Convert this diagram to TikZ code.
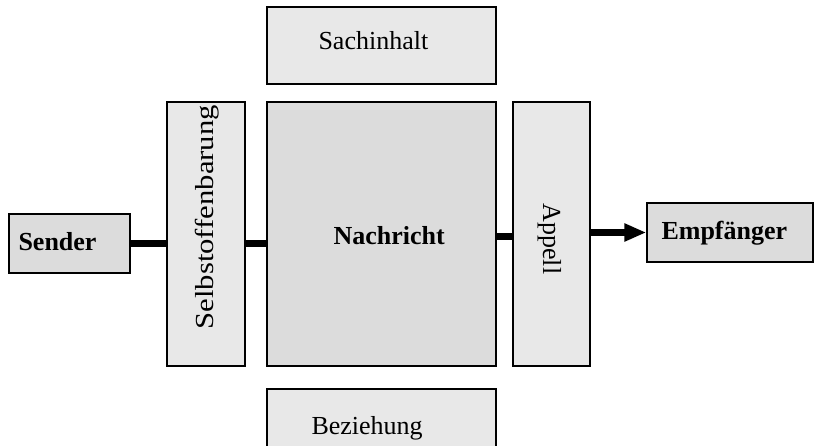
\documentclass[tikz,border=0pt]{standalone}
\usepackage{fontspec}
\setmainfont{Liberation Serif}
\usepackage{xcolor}
\usepackage{tikz}
\usetikzlibrary{arrows.meta, positioning, calc}

\definecolor{kastenhell}{HTML}{E8E8E8}
\definecolor{kastendunkel}{HTML}{DCDCDC}

\begin{document}
\begin{tikzpicture}[
    x=1pt, y=-1pt,
    font=\fontsize{26}{30}\selectfont,
    kasten/.style={draw, line width=1.5pt, inner sep=0pt, fill=kastenhell},
    ende/.style={kasten, fill=kastendunkel},
    verbindung/.style={line width=7pt},
    pfeil/.style={line width=7pt, -{Triangle[length=22pt, width=17pt]}}
  ]
    \useasboundingbox (0,0) rectangle (816,446);

    \node[ende, minimum width=121pt, minimum height=59pt] (sender) at (69.5,243.5) {};
    \node[kasten, minimum width=78pt, minimum height=264pt] (selbst) at (206,234) {};
    \node[ende, minimum width=229pt, minimum height=264pt] (nachricht) at (381.5,234) {};
    \node[kasten, minimum width=77pt, minimum height=264pt] (appell) at (551.5,234) {};
    \node[ende, minimum width=166pt, minimum height=59pt] (empfaenger) at (730,232.5) {};
    \node[kasten, minimum width=229pt, minimum height=77pt] (sachinhalt) at (381.5,45.5) {};
    \node[kasten, minimum width=229pt, minimum height=71pt] (beziehung) at (381.5,424.5) {};

    \node[anchor=base west, font=\fontsize{26}{30}\selectfont\bfseries] (sendertext) at (15,251) {Sender};
    \node[anchor=base west, font=\fontsize{26}{30}\selectfont\bfseries] (empfaengertext) at (658,240) {Empfänger};
    \node[anchor=base west, font=\fontsize{26}{30}\selectfont\bfseries] (nachrichttext) at (330,245) {Nachricht};
    \node[anchor=base west] (sachinhalttext) at (315,50) {Sachinhalt};
    \node[anchor=base west] (beziehungtext) at (308,434) {Beziehung};
    \node[anchor=base west, rotate=90] (selbsttext) at (213,333) {\scalebox{1.18}[1]{Selbstoffenbarung}};
    \node[anchor=base west, rotate=-90] (appelltext) at (543,200) {Appell};

    \draw[verbindung] (sender.east) -- (sender.east -| selbst.west);
    \draw[verbindung] (selbst.east |- sender.east) -- (nachricht.west |- sender.east);
    \draw[verbindung] ([yshift=-3pt]nachricht.east) -- ([yshift=-3pt]appell.west);
    \draw[pfeil] (appell.east |- empfaenger.west) -- (empfaenger.west);
  \end{tikzpicture}
\end{document}
